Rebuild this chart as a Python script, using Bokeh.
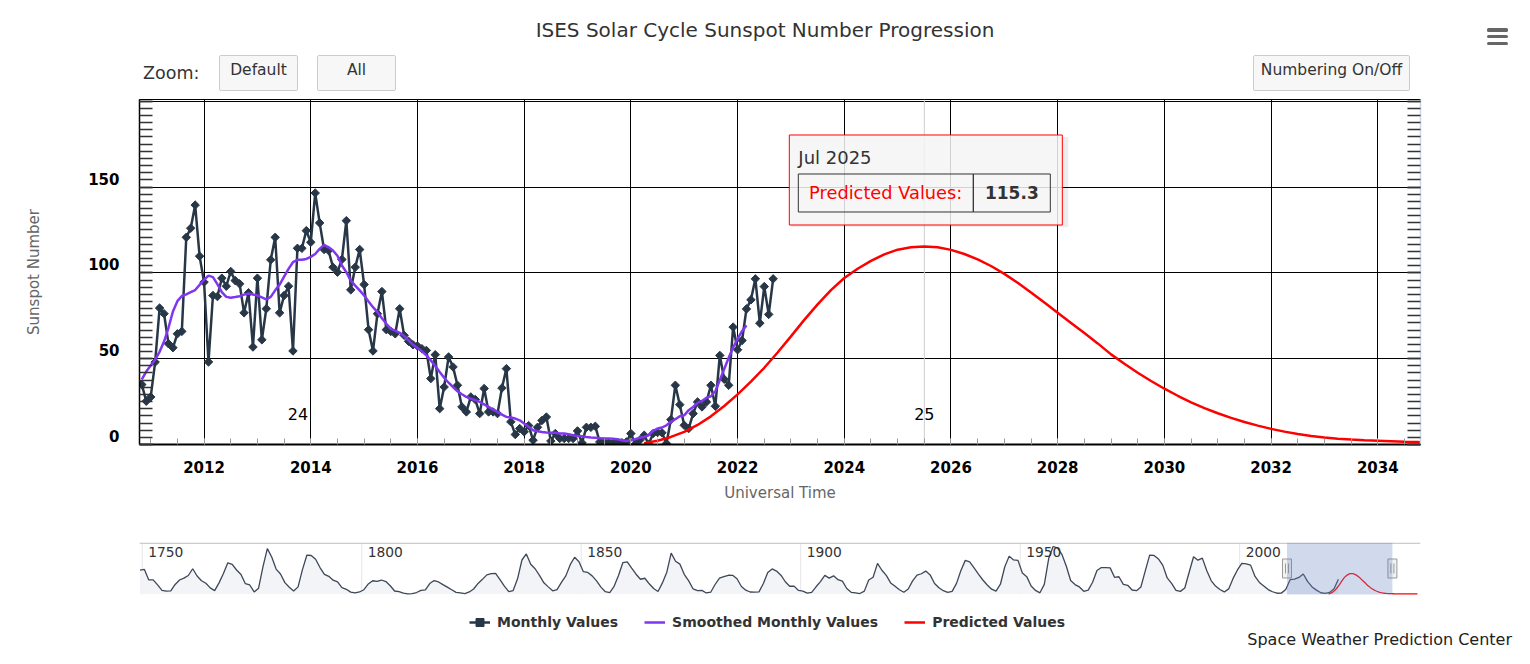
import numpy as np
import pandas as pd
from bokeh.plotting import figure
from bokeh.models import (Range1d, LinearAxis, SingleIntervalTicker, Span, BoxAnnotation,
                          Legend, LegendItem, NumeralTickFormatter, CustomJSTickFormatter, Div)
from bokeh.layouts import column
from bokeh.core.properties import value
from bokeh.embed import file_html
from bokeh.resources import INLINE

# ---------------------------------------------------------------- data
title_text = "ISES Solar Cycle Sunspot Number Progression"
zoom_text = "Zoom:"
button_labels = ["Default", "All", "Numbering On/Off"]
legend_labels = ["Monthly Values", "Smoothed Monthly Values", "Predicted Values"]
x_title = "Universal Time"
y_title = "Sunspot Number"
credit_text = "Space Weather Prediction Center"

monthly_first = "2010-11"
monthly_values = [
    34.9, 25.2,
    27.7, 48.0, 79.5, 76.2, 58.7, 56.4, 64.5, 65.9, 120.7, 126.0, 139.5, 109.7,
    94.6, 48.1, 86.8, 86.2, 96.9, 92.2, 100.8, 95.5, 93.6, 76.7, 88.4, 56.8,
    96.9, 61.0, 79.1, 107.6, 120.7, 76.7, 86.8, 92.2, 54.5, 114.3, 114.3, 124.6,
    117.8, 146.5, 129.1, 113.6, 113.0, 103.3, 100.4, 107.8, 130.4, 90.1, 103.3, 113.6,
    93.2, 66.9, 54.5, 76.2, 89.1, 66.9, 65.9, 64.5, 79.1, 63.6, 60.1, 58.1,
    57.4, 55.8, 54.8, 38.4, 52.3, 20.9, 33.5, 51.0, 45.2, 34.5, 21.9, 19.0,
    27.7, 26.2, 18.0, 32.6, 19.0, 19.0, 18.0, 32.9, 44.2, 13.2, 5.8, 9.3,
    7.4, 11.0, 2.5, 10.0, 14.0, 16.0, 2.0, 6.4, 3.5, 3.5, 3.5, 3.5,
    7.9, 1.0, 10.0, 10.0, 10.6, 1.5, 1.5, 1.0, 1.0, 1.0, 1.0, 1.5,
    6.4, 0.2, 2.5, 5.4, 0.2, 6.4, 7.0, 6.8, 0.6, 14.5, 34.5, 23.2,
    11.2, 9.3, 18.0, 24.8, 21.9, 24.8, 34.5, 22.3, 51.9, 38.0, 34.5, 68.4,
    55.2, 60.6, 79.0, 84.3, 96.5, 70.7, 92.0, 75.8, 96.5,
]

smoothed_first = "2010-11"
smoothed_values = [
    38.0, 42.5,
    46.0, 49.5, 54.0, 60.0, 68.0, 77.5, 83.5, 86.5, 87.5, 88.8, 90.0, 93.0,
    96.0, 98.4, 97.5, 93.4, 88.8, 86.0, 85.5, 85.9, 86.4, 87.3, 88.0, 87.4,
    86.8, 85.7, 84.6, 86.0, 89.8, 93.2, 97.8, 102.3, 106.2, 107.6, 107.6, 108.1,
    109.3, 111.0, 114.0, 116.3, 114.9, 113.0, 110.0, 104.3, 100.4, 95.5, 92.6, 89.8,
    86.8, 83.3, 80.0, 77.1, 73.6, 70.3, 67.4, 66.3, 65.1, 63.2, 60.7, 58.1,
    56.2, 54.3, 51.9, 49.0, 45.7, 42.2, 38.9, 36.0, 33.5, 31.0, 29.3, 27.7,
    26.7, 25.8, 24.8, 23.4, 21.9, 20.3, 19.0, 17.4, 16.1, 15.7, 15.1, 14.1,
    12.2, 10.3, 8.3, 7.7, 7.3, 7.0, 6.8, 6.8, 6.4, 6.4, 6.0, 5.4,
    5.0, 4.8, 4.4, 4.1, 3.9, 3.7, 3.5, 3.5, 3.3, 3.1, 2.5, 2.1,
    2.5, 3.1, 3.9, 4.4, 5.4, 7.9, 9.3, 9.9, 11.2, 13.2, 14.7, 16.5,
    17.0, 20.0, 21.9, 24.2, 25.4, 27.3, 28.1, 31.0, 37.5, 44.0, 50.5, 56.5,
    61.5, 66.0, 69.4,
]

predicted_first = "2020-04"        # one value every three months
predicted_values = [
    0.8, 2.2, 4.4,
    7.4, 11.4, 16.4, 22.4,
    29.2, 36.6, 44.7, 53.6,
    63.0, 72.6, 81.6, 89.9,
    97.0, 102.4, 107.0, 110.8,
    113.5, 114.9, 115.3, 114.9,
    113.4, 111.0, 107.9, 104.0,
    99.4, 94.2, 88.6, 82.7,
    76.7, 70.8, 64.9, 58.9,
    52.5, 47.0, 41.8, 37.0,
    32.5, 28.4, 24.6, 21.2,
    18.2, 15.5, 13.1, 11.0,
    9.1, 7.5, 6.1, 5.0,
    4.1, 3.4, 2.9, 2.5,
    2.2, 1.9, 1.6, 1.4,
    1.2, 1.0, 0.9, 0.8,
    0.7, 0.6, 0.5, 0.5,
    0.4, 0.4, 0.3, 0.3,
    0.3, 0.2, 0.2, 0.2,
    0.2, 0.1, 0.1, 0.1,
    0.1, 0.1, 0.1,
]

history_first_year = 1749          # navigator series, yearly values
history_values = [
    134.7,
    139.0, 79.5, 79.7, 51.2, 20.3, 16.0, 17.0, 54.0, 79.3, 90.0,
    104.8, 143.2, 102.0, 75.2, 60.7, 34.8, 19.0, 63.0, 116.3, 176.8,
    168.0, 136.0, 110.8, 58.0, 51.0, 11.7, 33.0, 154.2, 257.3, 209.8,
    141.3, 113.5, 64.2, 38.0, 17.0, 40.2, 138.2, 220.0, 218.2, 196.8,
    149.8, 111.0, 100.0, 78.2, 68.3, 35.5, 26.7, 10.7, 6.8, 11.3,
    24.2, 56.7, 75.0, 71.8, 79.2, 70.3, 46.8, 16.8, 13.5, 4.2,
    0.0, 2.3, 8.3, 20.3, 23.2, 59.0, 76.3, 68.3, 52.9, 38.5,
    24.2, 9.2, 6.3, 2.2, 11.4, 28.2, 59.9, 83.0, 108.5, 115.2,
    117.4, 80.8, 44.3, 13.4, 19.5, 85.8, 192.7, 227.3, 168.7, 143.0,
    105.5, 63.3, 40.3, 18.1, 25.1, 65.8, 102.7, 166.3, 208.3, 182.5,
    126.3, 122.0, 102.7, 74.1, 39.0, 12.7, 8.2, 43.4, 104.4, 178.3,
    182.2, 146.6, 112.1, 83.5, 89.2, 57.8, 30.7, 13.9, 62.8, 123.6,
    232.0, 185.3, 169.2, 110.1, 74.5, 28.3, 18.9, 20.7, 5.7, 10.0,
    53.7, 90.5, 99.0, 106.1, 105.8, 86.3, 42.4, 21.8, 11.2, 10.4,
    11.8, 59.5, 121.7, 142.0, 130.0, 106.6, 69.4, 43.8, 44.4, 20.2,
    15.7, 4.6, 8.5, 40.8, 70.1, 105.5, 90.1, 102.8, 80.9, 73.2,
    30.9, 9.5, 6.0, 2.4, 16.1, 79.0, 95.0, 173.6, 134.6, 105.7,
    62.7, 43.5, 23.7, 9.7, 27.9, 74.0, 106.5, 114.7, 129.7, 108.2,
    59.4, 35.1, 18.6, 9.2, 14.6, 60.2, 132.8, 190.6, 182.6, 148.0,
    113.0, 79.2, 50.8, 27.1, 16.1, 55.3, 154.3, 214.7, 193.0, 190.7,
    118.9, 98.3, 45.0, 20.1, 6.6, 54.2, 200.7, 269.3, 261.7, 225.1,
    159.0, 76.4, 53.4, 39.9, 15.0, 22.0, 66.8, 132.9, 150.0, 149.4,
    148.0, 94.4, 97.6, 54.1, 49.2, 22.5, 18.4, 39.3, 131.0, 220.1,
    218.9, 198.9, 162.4, 91.0, 60.5, 20.6, 14.8, 33.9, 123.0, 211.1,
    191.8, 203.3, 133.0, 76.1, 44.9, 25.1, 11.6, 28.9, 88.3, 136.3,
    173.9, 170.4, 163.6, 99.3, 65.3, 45.8, 24.7, 12.6, 4.2, 4.8,
    24.9, 80.8, 84.5, 94.0, 113.3, 69.8, 39.8, 21.7, 7.0, 3.6,
    8.8, 29.6, 83.2,
]

cycle_numbers = ["24", "25"]
cycle_number_x = [2013.76, 2025.5]
cycle_number_y = [17.7, 17.7]
nav_label_years = [1750, 1800, 1850, 1900, 1950, 2000]


def month_positions(first, n, step=1):
    d = pd.date_range(pd.Timestamp(first + "-01"), periods=n, freq=f"{step}MS")
    return (d.year + (d.month - 1) / 12.0).to_numpy(dtype=float)


monthly_x = month_positions(monthly_first, len(monthly_values))
smoothed_x = month_positions(smoothed_first, len(smoothed_values))
predicted_x = month_positions(predicted_first, len(predicted_values), 3)
history_x = history_first_year + 0.5 + np.arange(len(history_values))

# ---------------------------------------------------------------- style / layout
FONT = "DejaVu Sans"
FV = value(FONT)
C_MONTH = "#283747"
C_SMOOTH = "#8036f0"
C_PRED = "#ff0000"

W = 1514
HEAD_H = 99
L, R = 139, 94
FW, FH = 1281, 345
MAIN_H = FH + 98
BAND_H = 52
FOOT_H = 16
NAV_H = 648 - HEAD_H - MAIN_H - FOOT_H

X0, X1 = 2010.79, 2034.8
Y0, Y1 = 0.0, 201.0
kx = (X1 - X0) / FW
ky = (Y1 - Y0) / FH

# ---------------------------------------------------------------- header (html)
def btn(left, width, label):
    return (f'<div style="position:absolute;left:{left}px;top:55px;width:{width}px;height:36px;'
            f'box-sizing:border-box;border:1px solid #cccccc;border-radius:2px;background:#f7f7f7;'
            f'text-align:center;font-size:15.5px;line-height:18px;padding-top:5px;color:#333333;">'
            f'{label}</div>')


bars = "".join(
    f'<div style="position:absolute;left:1487px;top:{t}px;width:21px;height:3.4px;'
    f'border-radius:1.5px;background:#666666;"></div>' for t in (28.3, 35.0, 41.7))
header_html = (
    f'<div style="position:relative;width:{W}px;height:{HEAD_H}px;font-family:\'{FONT}\';'
    f'overflow:hidden;">'
    f'<div style="position:absolute;left:415px;top:18px;width:700px;text-align:center;'
    f'font-size:20px;line-height:24px;color:#333333;">{title_text}</div>'
    f'<div style="position:absolute;left:143px;top:63px;font-size:17.5px;line-height:20px;'
    f'color:#333333;">{zoom_text}</div>'
    + btn(219, 79, button_labels[0]) + btn(317, 79, button_labels[1])
    + btn(1253, 157, button_labels[2]) + bars + '</div>')
header = Div(text=header_html, width=W, height=HEAD_H, margin=0)

# ---------------------------------------------------------------- main chart
p = figure(width=W, height=MAIN_H, x_range=Range1d(X0, X1), y_range=Range1d(Y0, Y1),
           output_backend="svg", toolbar_location=None,
           min_border_left=L, min_border_right=R, min_border_top=0,
           min_border_bottom=MAIN_H - FH,
           background_fill_color="white", border_fill_color="white",
           outline_line_color="black", outline_line_width=1)

xa = p.xaxis[0]
xa.ticker = SingleIntervalTicker(interval=2, num_minor_ticks=4)
xa.formatter = NumeralTickFormatter(format="0")
xa.axis_line_color = "black"
xa.axis_line_width = 2
xa.major_tick_in = 6
xa.major_tick_out = 0
xa.minor_tick_in = 6
xa.minor_tick_out = 0
xa.major_tick_line_color = "#999999"
xa.minor_tick_line_color = "#999999"
xa.major_label_text_font = FONT
xa.major_label_text_font_style = "bold"
xa.major_label_text_font_size = "15px"
xa.major_label_text_color = "black"
xa.major_label_standoff = 16
xa.axis_label = x_title
xa.axis_label_text_font = FONT
xa.axis_label_text_font_style = "normal"
xa.axis_label_text_font_size = "15px"
xa.axis_label_text_color = "#666666"
xa.axis_label_standoff = 8

ya = p.yaxis[0]
ya.ticker = SingleIntervalTicker(interval=50, num_minor_ticks=12)
ya.formatter = CustomJSTickFormatter(code="return ''")
ya.major_label_standoff = 0
ya.major_label_text_font_size = "0px"
ya.axis_line_color = "black"
ya.axis_line_width = 1.5
ya.major_tick_in = 13
ya.major_tick_out = 0
ya.minor_tick_in = 13
ya.minor_tick_out = 0
ya.major_tick_line_color = "#333333"
ya.minor_tick_line_color = "#333333"
ya.major_tick_line_width = 1.5
ya.minor_tick_line_width = 1.5

lab_shift = 8.4 * ky
p.extra_y_ranges = {"lab": Range1d(Y0 - lab_shift, Y1 - lab_shift)}
ylab = LinearAxis(y_range_name="lab", ticker=SingleIntervalTicker(interval=50, num_minor_ticks=0),
                  major_tick_in=0, major_tick_out=0, minor_tick_in=0, minor_tick_out=0,
                  axis_line_color=None,
                  major_label_text_font=FONT, major_label_text_font_style="bold",
                  major_label_text_font_size="15px", major_label_text_color="black",
                  major_label_standoff=20,
                  axis_label=y_title, axis_label_text_font=FONT,
                  axis_label_text_font_style="normal", axis_label_text_font_size="15px",
                  axis_label_text_color="#666666", axis_label_standoff=42)
p.add_layout(ylab, "left")

yr = LinearAxis(ticker=SingleIntervalTicker(interval=50, num_minor_ticks=12),
                formatter=CustomJSTickFormatter(code="return ''"),
                major_label_standoff=0, major_label_text_font_size="0px",
                axis_line_color="#ccd6eb", axis_line_width=1.5,
                major_tick_in=13, major_tick_out=0, minor_tick_in=13, minor_tick_out=0,
                major_tick_line_color="#333333", minor_tick_line_color="#333333",
                major_tick_line_width=1.5, minor_tick_line_width=1.5)
p.add_layout(yr, "right")

p.xgrid.grid_line_color = "black"
p.xgrid.grid_line_width = 1
p.ygrid.grid_line_color = "black"
p.ygrid.grid_line_width = 1

pk = int(np.argmax(predicted_values))
pk_x = float(predicted_x[pk])
pk_y = float(predicted_values[pk])
p.add_layout(Span(location=pk_x, dimension="height", line_color="#cccccc",
                  line_width=1, level="underlay"))

p.line(monthly_x, monthly_values, line_color=C_MONTH, line_width=2.5)
p.scatter(monthly_x, monthly_values, marker="square", angle=np.pi / 4, size=6,
          fill_color=C_MONTH, line_color=C_MONTH, line_width=1)
p.line(smoothed_x, smoothed_values, line_color=C_SMOOTH, line_width=2.5)
p.line(predicted_x, predicted_values, line_color=C_PRED, line_width=2.5)

p.text(x=cycle_number_x, y=cycle_number_y, text=cycle_numbers, text_font=FV,
       text_font_size="16px", text_color="black", text_align="center",
       text_baseline="middle")


# tooltip (anchored to the predicted peak point, offsets in pixels)
def bx(dpx):
    return pk_x + dpx * kx


def by(dpy):
    return pk_y - dpy * ky


p.quad(left=[bx(-133)], right=[bx(144)], top=[by(-109.6)], bottom=[by(-19.6)],
       fill_color="black", fill_alpha=0.07, line_color=None)
p.quad(left=[bx(-135)], right=[bx(138)], top=[by(-111.6)], bottom=[by(-21.6)],
       fill_color="#f7f7f7", fill_alpha=0.85, line_color=C_PRED, line_width=1)
p.quad(left=[bx(-126), bx(49)], right=[bx(49), bx(126)], top=[by(-72.6)] * 2,
       bottom=[by(-34.6)] * 2, fill_color=None, line_color="#333333", line_width=1)
pk_month = pd.Timestamp(year=int(pk_x), month=int(round((pk_x % 1) * 12)) + 1, day=1)
p.text(x=[bx(-126)], y=[by(-88.6)], text=[pk_month.strftime("%b %Y")], text_font=FV,
       text_font_size="18px", text_color="#333333", text_align="left", text_baseline="middle")
p.text(x=[bx(38)], y=[by(-53.6)], text=[legend_labels[2] + ":"], text_font=FV,
       text_font_size="17.8px", text_color=C_PRED, text_align="right", text_baseline="middle")
p.text(x=[bx(87.5)], y=[by(-53.6)], text=[f"{pk_y:.1f}"], text_font=FV,
       text_font_size="17px", text_font_style="bold", text_color="#333333",
       text_align="center", text_baseline="middle")

# ---------------------------------------------------------------- navigator + legend
NX0, NX1 = 1749.38, 2041.2
nkx = (NX1 - NX0) / FW
NY0, NY1 = -3.0, 292.0
nky = (NY1 - NY0) / BAND_H

n = figure(width=W, height=NAV_H, x_range=Range1d(NX0, NX1),
           y_range=Range1d(NY1 - NAV_H * nky, NY1),
           x_axis_location=None, y_axis_location=None, toolbar_location=None,
           output_backend="svg", min_border_left=L, min_border_right=R,
           min_border_top=0, min_border_bottom=0, outline_line_color=None)
n.grid.visible = False

n.segment(x0=nav_label_years, y0=[NY0] * len(nav_label_years), x1=nav_label_years,
          y1=[NY1] * len(nav_label_years), line_color="#e6e6e6", line_width=1)
n.varea(x=history_x, y1=np.zeros(len(history_values)), y2=history_values,
        fill_color="#f2f4f7")
n.line(history_x, history_values, line_color="#3d4757", line_width=1.3)
n.line(predicted_x, predicted_values, line_color=C_PRED, line_width=1.3)
n.segment(x0=[NX0], y0=[NY1 - 0.8 * nky], x1=[NX1], y1=[NY1 - 0.8 * nky],
          line_color="#cccccc", line_width=1.5)
n.text(x=nav_label_years, y=[NY1] * len(nav_label_years), text=[str(v) for v in nav_label_years],
       x_offset=6, y_offset=4, text_font=FV, text_font_size="13.8px", text_color="#333333",
       text_align="left", text_baseline="top")
n.add_layout(BoxAnnotation(left=X0, right=X1, bottom=NY0, top=NY1,
                           fill_color="#6685c2", fill_alpha=0.3, line_color=None))
mid = NY1 - 26 * nky
n.rect(x=[X0, X1], y=[mid, mid], width=9, height=19, width_units="screen",
       height_units="screen", fill_color="#f2f2f2", line_color="#999999", line_width=1)
hx = [X0 - 1.5 * nkx, X0 + 1.5 * nkx, X1 - 1.5 * nkx, X1 + 1.5 * nkx]
n.segment(x0=hx, y0=[mid - 5 * nky] * 4, x1=hx, y1=[mid + 5 * nky] * 4,
          line_color="#999999", line_width=1)

gx = [NX0 - 500]
gy = [0]
r_m_line = n.line(gx, gy, line_color=C_MONTH, line_width=2.5)
r_m_mark = n.scatter(gx, gy, marker="square", angle=np.pi / 4, size=6,
                     fill_color=C_MONTH, line_color=C_MONTH)
r_s_line = n.line(gx, gy, line_color=C_SMOOTH, line_width=2.5)
r_p_line = n.line(gx, gy, line_color=C_PRED, line_width=2.5)
legend = Legend(items=[LegendItem(label=legend_labels[0], renderers=[r_m_line, r_m_mark]),
                       LegendItem(label=legend_labels[1], renderers=[r_s_line]),
                       LegendItem(label=legend_labels[2], renderers=[r_p_line])],
                orientation="horizontal", location=(469 - L, 0),
                border_line_color=None, background_fill_alpha=0,
                label_text_font=FONT, label_text_font_style="bold",
                label_text_font_size="14px", label_text_color="#333333",
                glyph_width=21, glyph_height=20, label_height=20, label_standoff=7,
                spacing=26, padding=0, margin=0)
n.add_layout(legend)

footer_html = (f'<div style="width:{W}px;height:{FOOT_H}px;text-align:right;'
               f'font-family:\'{FONT}\';font-size:16px;line-height:{FOOT_H}px;color:#222222;'
               f'white-space:nowrap;overflow:visible;"><span style="padding-right:2px;">'
               f'{credit_text}</span></div>')
footer = Div(text=footer_html, width=W, height=FOOT_H, margin=0)

layout = column(header, p, n, footer, spacing=0)
open("out.html", "w").write(file_html(layout, INLINE))
